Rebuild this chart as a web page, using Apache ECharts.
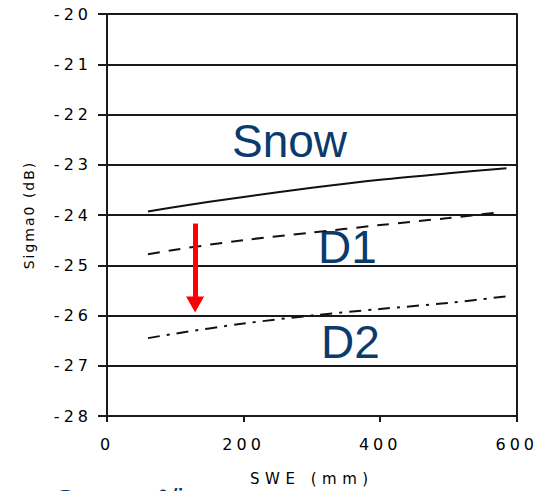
<!DOCTYPE html>
<html>
<head>
<meta charset="utf-8">
<script src="https://cdn.jsdelivr.net/npm/echarts@6/dist/echarts.min.js"></script>
<style>
  html, body { margin: 0; padding: 0; background: #ffffff; }
  #chart { width: 535px; height: 491px; }
  text[style*="16px"] { letter-spacing: 4px; }
  text[style*="15px"] { letter-spacing: 5.5px; }
  text[style*="14px"] { letter-spacing: 2px; }
</style>
</head>
<body>
<div id="chart"></div>
<script>
// ---- data ----
var xTicks = [0, 200, 400, 600];
var yTicks = [-28, -27, -26, -25, -24, -23, -22, -21, -20];

var snowSwe = [60, 100, 200, 300, 400, 500, 585];
var snowSigma = [-23.93, -23.84, -23.64, -23.46, -23.30, -23.17, -23.07];

var d1Swe = [60, 100, 200, 300, 400, 500, 578];
var d1Sigma = [-24.78, -24.69, -24.50, -24.35, -24.20, -24.06, -23.94];

var d2Swe = [60, 100, 200, 300, 400, 500, 584];
var d2Sigma = [-26.45, -26.36, -26.16, -26.00, -25.87, -25.75, -25.62];

var arrowSwe = [129, 129];
var arrowSigma = [-24.17, -25.78];

var seriesNames = ['Snow', 'D1', 'D2'];
var bottomNote = 'Snow σ°/ice';

function pairs(xs, ys) {
  return xs.map(function (x, i) { return [x, ys[i]]; });
}

var chart = echarts.init(document.getElementById('chart'), null, { renderer: 'svg' });

var tickFont = 'DejaVu Sans';
var lineColor = '#1a1a1a';
var textColor = '#000';
var blue = '#0b3a6d';

var option = {
  animation: false,
  backgroundColor: '#ffffff',
  grid: { left: 107, right: 18, top: 14, bottom: 74, containLabel: false },
  xAxis: {
    type: 'value',
    min: xTicks[0],
    max: xTicks[xTicks.length - 1],
    interval: xTicks[1] - xTicks[0],
    name: 'SWE (mm)',
    nameLocation: 'middle',
    nameGap: 55,
    nameTextStyle: { fontFamily: tickFont, fontSize: 15, color: textColor },
    axisLine: { show: true, onZero: false, lineStyle: { color: lineColor, width: 2 } },
    axisTick: { show: true, length: 6, lineStyle: { color: lineColor, width: 2 } },
    axisLabel: { fontFamily: tickFont, fontSize: 16, color: textColor, margin: 20 },
    splitLine: { show: false }
  },
  yAxis: [{
    type: 'value',
    min: yTicks[0],
    max: yTicks[yTicks.length - 1],
    interval: 1,
    name: 'Sigma0 (dB)',
    nameLocation: 'middle',
    nameGap: 71,
    nameTextStyle: { fontFamily: tickFont, fontSize: 14, color: textColor },
    axisLine: { show: true, onZero: false, lineStyle: { color: lineColor, width: 2 } },
    axisTick: { show: true, length: 9, lineStyle: { color: lineColor, width: 2 } },
    axisLabel: { fontFamily: tickFont, fontSize: 16, color: textColor, margin: 15 },
    splitLine: { show: true, lineStyle: { color: lineColor, width: 2 } }
  }, {
    type: 'value',
    position: 'right',
    min: yTicks[0],
    max: yTicks[yTicks.length - 1],
    interval: 1,
    axisLine: { show: true, onZero: false, lineStyle: { color: lineColor, width: 2 } },
    axisTick: { show: false },
    axisLabel: { show: false },
    splitLine: { show: false }
  }],
  series: [
    {
      name: seriesNames[0], type: 'line', showSymbol: false, symbol: 'none', smooth: 0.3,
      data: pairs(snowSwe, snowSigma),
      lineStyle: { color: '#111', width: 2, type: 'solid' },
      markLine: {
        silent: true, animation: false,
        symbol: ['none', 'triangle'], symbolSize: [18, 16],
        label: { show: false },
        lineStyle: { color: '#ff0000', width: 5, type: 'solid' },
        itemStyle: { color: '#ff0000' },
        emphasis: { disabled: true },
        data: [[{ coord: [arrowSwe[0], arrowSigma[0]] }, { coord: [arrowSwe[1], arrowSigma[1]] }]]
      }
    },
    {
      name: seriesNames[1], type: 'line', showSymbol: false, symbol: 'none', smooth: 0.3,
      data: pairs(d1Swe, d1Sigma),
      lineStyle: { color: '#111', width: 2, type: [12, 9] }
    },
    {
      name: seriesNames[2], type: 'line', showSymbol: false, symbol: 'none', smooth: 0.3,
      data: pairs(d2Swe, d2Sigma),
      lineStyle: { color: '#111', width: 2, type: [12, 7, 3, 7] }
    }
  ],
  graphic: [
    { type: 'text', left: 232, top: 118, style: { text: seriesNames[0], font: '46px "Liberation Sans"', fill: blue } },
    { type: 'text', left: 318, top: 224, style: { text: seriesNames[1], font: '46px "Liberation Sans"', fill: blue } },
    { type: 'text', left: 321, top: 319, style: { text: seriesNames[2], font: '46px "Liberation Sans"', fill: blue } },
    { type: 'text', left: 55, top: 484, style: { text: bottomNote, font: '30px "Liberation Sans"', fill: blue } }
  ]
};

chart.setOption(option);
</script>
</body>
</html>
